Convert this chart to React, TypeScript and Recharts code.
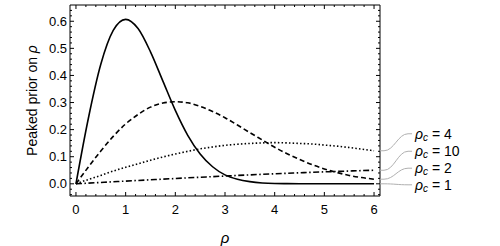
import React from 'react';
import { LineChart, Line, XAxis, YAxis, ReferenceDot } from 'recharts';

// rho grid read along the x axis
const rho = [0, 0.25, 0.5, 0.75, 1, 1.25, 1.5, 1.75, 2, 2.25, 2.5, 2.75, 3, 3.25, 3.5, 3.75, 4, 4.25, 4.5, 4.75, 5, 5.25, 5.5, 5.75, 6];

// peaked prior curves, one per rho_c
const priorRc1 = [0, 0.242, 0.441, 0.566, 0.607, 0.573, 0.487, 0.379, 0.271, 0.179, 0.11, 0.063, 0.033, 0.017, 0.008, 0.003, 0.001, 0.0005, 0.0002, 0, 0, 0, 0, 0, 0];
const priorRc2 = [0, 0.062, 0.121, 0.175, 0.221, 0.256, 0.283, 0.298, 0.303, 0.299, 0.286, 0.267, 0.244, 0.217, 0.189, 0.162, 0.135, 0.111, 0.09, 0.071, 0.055, 0.042, 0.031, 0.023, 0.017];
const priorRc4 = [0, 0.016, 0.031, 0.047, 0.061, 0.074, 0.087, 0.099, 0.11, 0.12, 0.129, 0.136, 0.142, 0.146, 0.149, 0.151, 0.152, 0.151, 0.149, 0.147, 0.143, 0.139, 0.134, 0.128, 0.122];
const priorRc10 = [0, 0.0025, 0.005, 0.0075, 0.01, 0.0124, 0.0148, 0.0172, 0.0196, 0.022, 0.0242, 0.0265, 0.0287, 0.0309, 0.033, 0.035, 0.037, 0.0389, 0.0407, 0.0425, 0.0441, 0.0457, 0.0472, 0.0487, 0.05];

const xMajor = [0, 1, 2, 3, 4, 5, 6];
const yMajor = [0, 0.1, 0.2, 0.3, 0.4, 0.5, 0.6];
const xTicks = Array.from({ length: 31 }, (_, i) => +(i * 0.2).toFixed(2));
const yTicks = Array.from({ length: 35 }, (_, i) => +(-0.04 + i * 0.02).toFixed(2));

const legendNames = ['4', '10', '2', '1'];
const legendEnds = [priorRc4, priorRc10, priorRc2, priorRc1];

const data = rho.map((r, i) => ({
  rho: r,
  rc1: priorRc1[i],
  rc2: priorRc2[i],
  rc4: priorRc4[i],
  rc10: priorRc10[i],
}));

const FONT = '"Liberation Sans", Arial, Helvetica, sans-serif';
const isMajor = (v: number, list: number[]) => list.some((m) => Math.abs(m - v) < 1e-6);

const BottomTick = (props: any) => {
  const { x, y, payload } = props;
  const major = isMajor(payload.value, xMajor);
  return (
    <g>
      <line x1={x} y1={y} x2={x} y2={y - (major ? 4 : 2)} stroke="#000" />
      {major && (
        <text x={x} y={y + 13} textAnchor="middle" dominantBaseline="central" fontSize={13} fontFamily={FONT} fill="#000">
          {payload.value}
        </text>
      )}
    </g>
  );
};

const TopTick = (props: any) => {
  const { x, y, payload } = props;
  const major = isMajor(payload.value, xMajor);
  return <line x1={x} y1={y} x2={x} y2={y + (major ? 4 : 2)} stroke="#000" />;
};

const LeftTick = (props: any) => {
  const { x, y, payload } = props;
  const major = isMajor(payload.value, yMajor);
  return (
    <g>
      <line x1={x} y1={y} x2={x + (major ? 4 : 2)} y2={y} stroke="#000" />
      {major && (
        <text x={x - 3} y={y} textAnchor="end" dominantBaseline="central" fontSize={13} fontFamily={FONT} fill="#000">
          {payload.value.toFixed(1)}
        </text>
      )}
    </g>
  );
};

const RightTick = (props: any) => {
  const { x, y, payload } = props;
  const major = isMajor(payload.value, yMajor);
  return <line x1={x} y1={y} x2={x - (major ? 4 : 2)} y2={y} stroke="#000" />;
};

const labelOffsets = [-17, -19, -11, 1];

const makeCallout = (name: string, dy: number) => (props: any) => {
  const { cx, cy } = props;
  const d = `M${cx + 6},${cy} L${cx + 10},${cy} C${cx + 20},${cy} ${cx + 24},${cy + dy} ${cx + 34},${cy + dy} L${cx + 38},${cy + dy}`;
  return (
    <g>
      <path d={d} fill="none" stroke="#b0b0b0" strokeWidth={1} />
      <text x={cx + 41} y={cy + dy} dominantBaseline="central" fontSize={14} fontFamily={FONT} fill="#000">
        <tspan fontStyle="italic">ρ</tspan>
        <tspan fontStyle="italic" fontSize={10} dy={3}>c</tspan>
        <tspan dy={-3}> = {name}</tspan>
      </text>
    </g>
  );
};

export default function App() {
  return (
    <div style={{ position: 'absolute', left: 0, top: 0, width: 500, height: 246, background: '#fff' }}>
      <LineChart width={500} height={246} data={data} margin={{ top: 4, right: 119, bottom: 0, left: 0 }}>
        <XAxis
          xAxisId="b"
          dataKey="rho"
          type="number"
          domain={[-0.12, 6.12]}
          allowDataOverflow
          ticks={xTicks}
          interval={0}
          tickSize={0}
          tickMargin={0}
          tick={<BottomTick />}
          height={50}
          axisLine={{ stroke: '#000' }}
          label={{
            content: (p: any) => {
              const vb = p.viewBox;
              return (
                <text x={vb.x + vb.width / 2} y={vb.y + 41} textAnchor="middle" dominantBaseline="central" fontSize={15} fontStyle="italic" fontFamily={FONT}>
                  ρ
                </text>
              );
            },
          }}
        />
        <XAxis
          xAxisId="t"
          orientation="top"
          dataKey="rho"
          type="number"
          domain={[-0.12, 6.12]}
          allowDataOverflow
          ticks={xTicks}
          interval={0}
          tickSize={0}
          tickMargin={0}
          tick={<TopTick />}
          height={1}
          axisLine={{ stroke: '#000' }}
        />
        <YAxis
          yAxisId="l"
          type="number"
          domain={[-0.045, 0.66]}
          allowDataOverflow
          ticks={yTicks}
          interval={0}
          tickSize={0}
          tickMargin={0}
          tick={<LeftTick />}
          width={70}
          axisLine={{ stroke: '#000' }}
          label={{
            content: (p: any) => {
              const vb = p.viewBox;
              const cx = 32;
              const cy = vb.y + vb.height / 2;
              return (
                <text x={cx} y={cy} transform={`rotate(-90 ${cx} ${cy})`} textAnchor="middle" dominantBaseline="central" fontSize={14} fontFamily={FONT}>
                  Peaked prior on <tspan fontStyle="italic">ρ</tspan>
                </text>
              );
            },
          }}
        />
        <YAxis
          yAxisId="r"
          orientation="right"
          type="number"
          domain={[-0.045, 0.66]}
          allowDataOverflow
          ticks={yTicks}
          interval={0}
          tickSize={0}
          tickMargin={0}
          tick={<RightTick />}
          width={1}
          axisLine={{ stroke: '#000' }}
        />
        <Line xAxisId="t" yAxisId="r" dataKey="rc1" stroke="none" dot={false} activeDot={false} legendType="none" isAnimationActive={false} />
        <Line xAxisId="b" yAxisId="l" dataKey="rc1" type="monotone" stroke="#000" strokeWidth={1.6} dot={false} activeDot={false} isAnimationActive={false} />
        <Line xAxisId="b" yAxisId="l" dataKey="rc2" type="monotone" stroke="#000" strokeWidth={1.6} strokeDasharray="5 3" dot={false} activeDot={false} isAnimationActive={false} />
        <Line xAxisId="b" yAxisId="l" dataKey="rc4" type="monotone" stroke="#000" strokeWidth={1.6} strokeDasharray="1.5 2.2" dot={false} activeDot={false} isAnimationActive={false} />
        <Line xAxisId="b" yAxisId="l" dataKey="rc10" type="monotone" stroke="#000" strokeWidth={1.6} strokeDasharray="6 2.5 1.5 2.5" dot={false} activeDot={false} isAnimationActive={false} />
        {legendNames.map((name, i) => {
          const series = legendEnds[i];
          return (
            <ReferenceDot
              key={name}
              xAxisId="b"
              yAxisId="l"
              x={rho[rho.length - 1]}
              y={series[series.length - 1]}
              ifOverflow="visible"
              shape={makeCallout(name, labelOffsets[i])}
            />
          );
        })}
      </LineChart>
    </div>
  );
}
